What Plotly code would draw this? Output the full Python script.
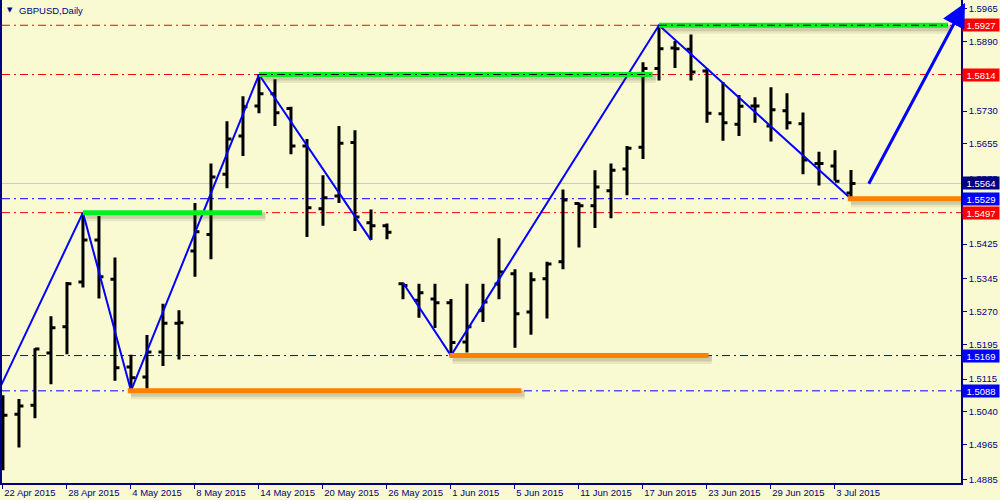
import plotly.graph_objects as go

# ---------------- data ----------------
dates = ["22 Apr 2015", "23 Apr 2015", "24 Apr 2015", "27 Apr 2015", "28 Apr 2015", "29 Apr 2015",
         "30 Apr 2015", "1 May 2015", "4 May 2015", "5 May 2015", "6 May 2015", "7 May 2015",
         "8 May 2015", "11 May 2015", "12 May 2015", "13 May 2015", "14 May 2015", "15 May 2015",
         "18 May 2015", "19 May 2015", "20 May 2015", "21 May 2015", "22 May 2015", "25 May 2015",
         "26 May 2015", "27 May 2015", "28 May 2015", "29 May 2015", "1 Jun 2015", "2 Jun 2015",
         "3 Jun 2015", "4 Jun 2015", "5 Jun 2015", "8 Jun 2015", "9 Jun 2015", "10 Jun 2015",
         "11 Jun 2015", "12 Jun 2015", "15 Jun 2015", "16 Jun 2015", "17 Jun 2015", "18 Jun 2015",
         "19 Jun 2015", "22 Jun 2015", "23 Jun 2015", "24 Jun 2015", "25 Jun 2015", "26 Jun 2015",
         "29 Jun 2015", "30 Jun 2015", "1 Jul 2015", "2 Jul 2015", "3 Jul 2015", "6 Jul 2015"]

opens = [1.4960, 1.5034, 1.5055, 1.5175, 1.5235, 1.5338, 1.5434, 1.5344, 1.5143, 1.5120,
         1.5177, 1.5243, 1.5409, 1.5447, 1.5585, 1.5673, 1.5742, 1.5770, 1.5736, 1.5650,
         1.5506, 1.5535, 1.5658, 1.5474, 1.5467, 1.5334, 1.5296, 1.5299, 1.5290, 1.5200,
         1.5272, 1.5333, 1.5357, 1.5269, 1.5345, 1.5384, 1.5518, 1.5513, 1.5547, 1.5597,
         1.5647, 1.5828, 1.5875, 1.5872, 1.5822, 1.5724, 1.5700, 1.5742, 1.5696, 1.5731,
         1.5701, 1.5610, 1.5604, 1.5542]
highs = [1.5078, 1.5069, 1.5186, 1.5259, 1.5338, 1.5497, 1.5489, 1.5394, 1.5171, 1.5216,
         1.5288, 1.5273, 1.5519, 1.5610, 1.5707, 1.5764, 1.5814, 1.5803, 1.5740, 1.5666,
         1.5583, 1.5696, 1.5686, 1.5504, 1.5472, 1.5336, 1.5334, 1.5334, 1.5299, 1.5334,
         1.5334, 1.5438, 1.5367, 1.5360, 1.5384, 1.5550, 1.5520, 1.5594, 1.5610, 1.5650,
         1.5842, 1.5927, 1.5891, 1.5906, 1.5828, 1.5797, 1.5767, 1.5762, 1.5785, 1.5771,
         1.5727, 1.5637, 1.5640, 1.5595]
lows = [1.4906, 1.4958, 1.5025, 1.5103, 1.5172, 1.5325, 1.5300, 1.5111, 1.5088, 1.5093,
        1.5145, 1.5160, 1.5350, 1.5390, 1.5553, 1.5627, 1.5725, 1.5696, 1.5631, 1.5441,
        1.5467, 1.5519, 1.5455, 1.5434, 1.5436, 1.5298, 1.5256, 1.5232, 1.5169, 1.5176,
        1.5246, 1.5298, 1.5187, 1.5217, 1.5254, 1.5367, 1.5417, 1.5462, 1.5484, 1.5537,
        1.5620, 1.5800, 1.5829, 1.5800, 1.5703, 1.5662, 1.5673, 1.5703, 1.5660, 1.5688,
        1.5585, 1.5559, 1.5570, 1.5529]
closes = [1.5032, 1.5053, 1.5184, 1.5233, 1.5334, 1.5434, 1.5350, 1.5141, 1.5118, 1.5177,
          1.5243, 1.5244, 1.5453, 1.5579, 1.5666, 1.5740, 1.5770, 1.5726, 1.5650, 1.5508,
          1.5531, 1.5656, 1.5487, 1.5467, 1.5452, 1.5330, 1.5313, 1.5290, 1.5199, 1.5235,
          1.5292, 1.5361, 1.5265, 1.5343, 1.5379, 1.5526, 1.5513, 1.5556, 1.5594, 1.5645,
          1.5828, 1.5873, 1.5873, 1.5820, 1.5725, 1.5703, 1.5741, 1.5742, 1.5733, 1.5703,
          1.5618, 1.5610, 1.5569, 1.5564]

# ZigZag vertices (bar index, price)
zz1_bar = [-1, 5, 8, 16, 23]
zz1_price = [1.5032, 1.5497, 1.5088, 1.5814, 1.5434]
zz2_bar = [25, 28, 41, 53]
zz2_price = [1.5336, 1.5169, 1.5927, 1.5529]

# horizontal levels
red_levels = [1.5927, 1.5814, 1.5497]
blue_levels = [1.5529, 1.5169, 1.5088]
bid_level = 1.5564

# support / resistance segments (price, from bar, to bar)
green_price = [1.5497, 1.5814, 1.5927]
green_from = [5, 16, 41]
green_to = [16.2, 40.6, 59.06]
green_dashed = [False, True, True]
orange_price = [1.5088, 1.5169, 1.5529]
orange_from = [7.8, 27.9, 52.8]
orange_to = [32.4, 44.1, 60.5]

# projection arrow (bar, price)
arrow_tail = (54.06, 1.5560)
arrow_head = (60.125, 1.5978)

y_ticks = [1.4885, 1.4965, 1.5040, 1.5115, 1.5195, 1.5270, 1.5345, 1.5425,
           1.5575, 1.5655, 1.5730, 1.5890, 1.5965]
x_tick_step = 4

# ---------------- figure ----------------
BG = "#FAFAD2"
NAVY = "#000080"
FONT = "Liberation Sans"
bars = list(range(len(dates)))

fig = go.Figure()
fig.add_trace(go.Ohlc(
    x=bars, open=opens, high=highs, low=lows, close=closes,
    increasing=dict(line=dict(color="black", width=3)),
    decreasing=dict(line=dict(color="black", width=3)),
    tickwidth=0.28, showlegend=False, hoverinfo="skip"))
for xs, ys in ((zz1_bar, zz1_price), (zz2_bar, zz2_price)):
    fig.add_trace(go.Scatter(x=xs, y=ys, mode="lines",
                             line=dict(color="#0000FF", width=2),
                             showlegend=False, hoverinfo="skip"))

shapes = []
# bid line
shapes.append(dict(type="line", xref="paper", x0=0, x1=1, yref="y", y0=bid_level, y1=bid_level,
                   line=dict(color="#C8C8C8", width=1), layer="below"))
for lv in red_levels:
    shapes.append(dict(type="line", xref="paper", x0=0, x1=1, yref="y", y0=lv, y1=lv,
                       line=dict(color="#FF0000", width=1, dash="8px,4px,2px,4px"), layer="below"))
for lv in blue_levels:
    shapes.append(dict(type="line", xref="paper", x0=0, x1=1, yref="y", y0=lv, y1=lv,
                       line=dict(color="#0000FF", width=1, dash="8px,4px,2px,4px"), layer="below"))


def seg(price, x0, x1, color, dashed):
    out = []
    # soft shadow
    for off, w, a in ((-4, 9, 0.10), (-3, 6, 0.16)):
        out.append(dict(type="line", xref="x", x0=x0 + 0.2, x1=x1 + 0.2, yref="y",
                        ysizemode="pixel", yanchor=price, y0=off, y1=off,
                        line=dict(color="rgba(60,60,30,%s)" % a, width=w), layer="above"))
    out.append(dict(type="line", xref="x", x0=x0, x1=x1, yref="y",
                    ysizemode="pixel", yanchor=price, y0=0, y1=0,
                    line=dict(color=color, width=5), layer="above"))
    if dashed:
        out.append(dict(type="line", xref="x", x0=x0, x1=x1, yref="y",
                        ysizemode="pixel", yanchor=price, y0=0, y1=0,
                        line=dict(color="black", width=1, dash="8px,4px,2px,4px"), layer="above"))
    return out


for p, a, b, d in zip(green_price, green_from, green_to, green_dashed):
    shapes += seg(p, a, b, "#00F020", d)
for p, a, b in zip(orange_price, orange_from, orange_to):
    shapes += seg(p, a, b, "#FF8000", False)

annotations = []
# price labels on the right axis
for lv, bg in ([(v, "#FF0000") for v in red_levels] + [(v, "#0000FF") for v in blue_levels]
               + [(bid_level, "#000080")]):
    annotations.append(dict(xref="paper", x=1, xanchor="left", xshift=1, yref="y", y=lv,
                            yanchor="middle", text="%.4f" % lv, showarrow=False,
                            font=dict(family=FONT, size=9.5, color="white"),
                            bgcolor=bg, width=36, height=12, borderpad=0))
# title
annotations.append(dict(xref="paper", yref="paper", x=0, y=1, xanchor="left", yanchor="top",
                        xshift=3, yshift=-4, text="▼", showarrow=False,
                        font=dict(family="DejaVu Sans", size=7, color=NAVY)))
annotations.append(dict(xref="paper", yref="paper", x=0, y=1, xanchor="left", yanchor="top",
                        xshift=15, yshift=-3, text="GBPUSD,Daily", showarrow=False,
                        font=dict(family=FONT, size=9.5, color=NAVY)))
# projection arrow
annotations.append(dict(xref="x", yref="y", x=arrow_head[0], y=arrow_head[1],
                        axref="x", ayref="y", ax=arrow_tail[0], ay=arrow_tail[1],
                        text="", showarrow=True, arrowhead=2, arrowsize=1.6,
                        arrowwidth=3, arrowcolor="#0000FF", standoff=0))

fig.update_layout(
    width=1000, height=500,
    margin=dict(l=2, r=39, t=0, b=17),
    paper_bgcolor=BG, plot_bgcolor=BG,
    font=dict(family=FONT, size=9.5, color=NAVY),
    shapes=shapes, annotations=annotations,
    showlegend=False, hovermode=False,
)
fig.update_xaxes(
    range=[-0.06, 59.875], showgrid=False, zeroline=False,
    rangeslider=dict(visible=False),
    tickmode="array", tickvals=bars[::x_tick_step], ticktext=dates[::x_tick_step],
    ticks="outside", ticklen=4, tickcolor=NAVY, ticklabelposition="outside right",
    showline=True, linecolor=NAVY, linewidth=1.5,
    tickfont=dict(family=FONT, size=9.5, color=NAVY),
)
fig.update_yaxes(
    range=[1.48765, 1.5985], side="right", showgrid=False, zeroline=False,
    tickmode="array", tickvals=y_ticks, ticktext=["%.4f" % v for v in y_ticks],
    ticks="outside", ticklen=4, tickcolor=NAVY,
    showline=True, mirror=True, linecolor=NAVY, linewidth=1.5,
    tickfont=dict(family=FONT, size=9.5, color=NAVY),
)

fig.write_html("out.html", config={"displayModeBar": False},
               post_script="document.body.style.margin='0';document.body.style.padding='0';"
                           "document.body.style.overflow='hidden';"
                           "document.body.style.background='%s';" % BG)
